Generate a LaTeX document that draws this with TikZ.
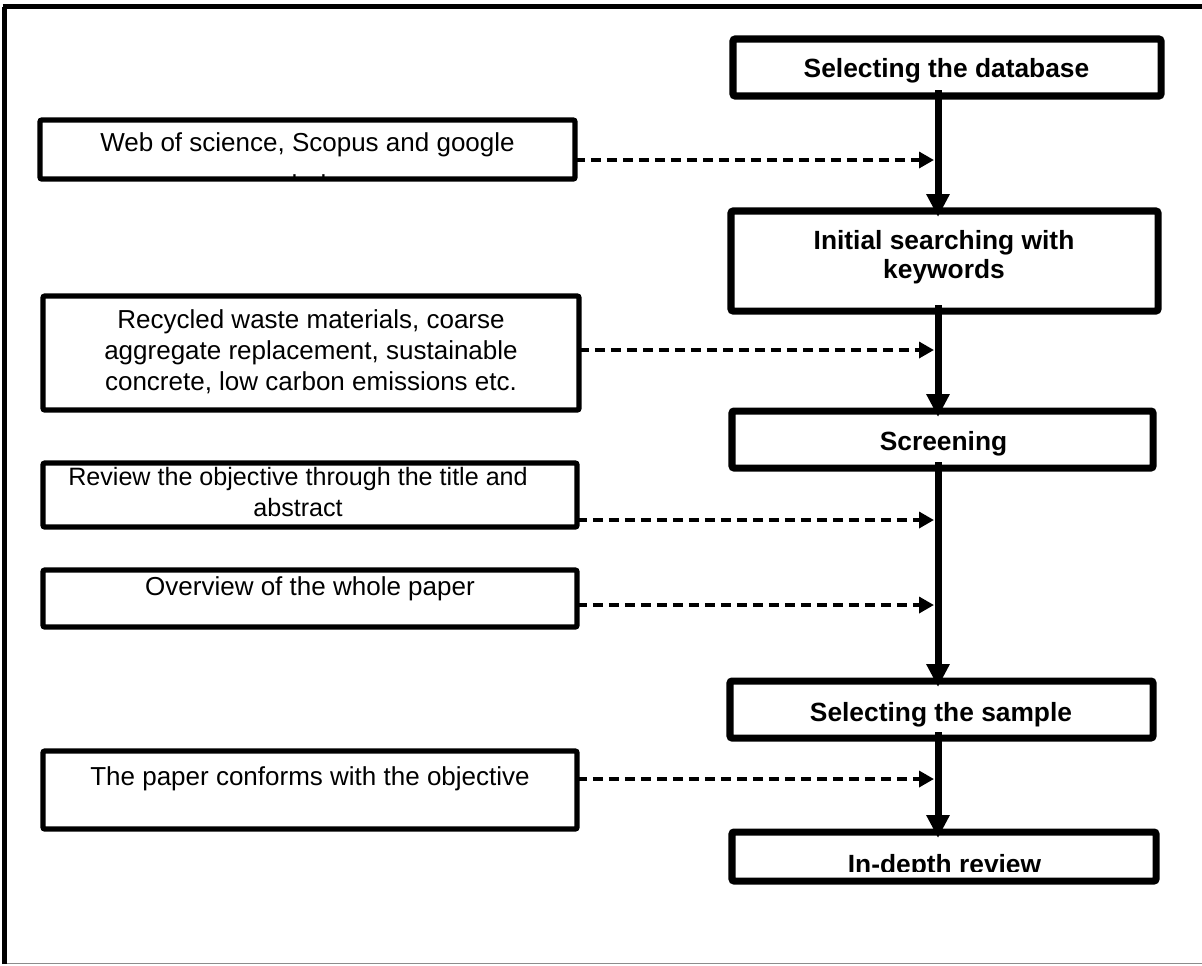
\documentclass[tikz,border=0pt]{standalone}
\usepackage{fontspec}
\setmainfont{Liberation Sans}
\usetikzlibrary{arrows.meta,fit}
\begin{document}
\begin{tikzpicture}[x=0.02cm,y=-0.02cm,
  stepbox/.style={draw, line width=4pt, rounded corners=1.2pt, outer sep=0pt, inner sep=0pt},
  notebox/.style={draw, line width=3.1pt, rounded corners=1.2pt, outer sep=0pt, inner sep=0pt},
  boldtxt/.style={font=\fontsize{15pt}{16.4pt}\selectfont\bfseries, align=center, inner sep=0pt},
  plaintxt/.style={font=\fontsize{14.8pt}{17.6pt}\selectfont, align=center, inner sep=0pt},
  flow/.style={line width=4pt, -{Triangle[length=13pt,width=12.5pt]}, shorten >=-3.4pt, shorten <=-3.4pt},
  feed/.style={line width=2.3pt, dash pattern=on 5.7pt off 3.4pt, -{Triangle[length=8.5pt,width=9pt]}},
]
\useasboundingbox (0,0) rectangle (1202,965);
% outer frame
\draw[line width=0.85pt, black!45] (4,963.5) -- (1202,963.5);
\draw[line width=2.3pt] (4.5,964) -- (4.5,6.5);
\draw[line width=2.85pt] (2.5,6.5) -- (1202,6.5);

% spine
\coordinate (spine) at (938,0);

% right-hand steps
\node[stepbox, fit={(733,39) (1161,96)}] (b1) {};
\node[boldtxt] (t1) at (946.5,71) {Selecting the database};

\node[stepbox, fit={(731,211) (1158,311)}] (b2) {};
\node[boldtxt] (t2) at (944,257) {Initial searching with\\keywords};

\node[stepbox, fit={(732,411) (1153,468)}] (b3) {};
\node[boldtxt] (t3) at (943.5,444) {Screening};

\node[stepbox, fit={(730,681) (1153,738)}] (b4) {};
\node[boldtxt] (t4) at (941,715) {Selecting the sample};

\node[stepbox, fit={(732,832) (1156,881)}, draw=none] (b5) {};
\begin{scope}
  \clip (732,832) rectangle (1156,871.5);
  \node[boldtxt] (t5) at (944.5,867) {In-depth review};
\end{scope}
\draw[line width=4pt, rounded corners=1.2pt] (b5.south west) rectangle (b5.north east);

% left-hand notes
\node[notebox, fit={(40,120) (575,179)}, draw=none] (l1) {};
\begin{scope}
  \clip (40,120) rectangle (575,177);
  \node[plaintxt, font=\fontsize{14.8pt}{24.2pt}\selectfont] (n1) at (307.5,163) {Web of science, Scopus and google\\scholar};
\end{scope}
\draw[line width=3.1pt, rounded corners=1.2pt] (l1.south west) rectangle (l1.north east);

\node[notebox, fit={(43,296) (579,410)}] (l2) {};
\node[plaintxt] (n2) at (311,352) {Recycled waste materials, coarse\\aggregate replacement, sustainable\\concrete, low carbon emissions etc.};

\node[notebox, fit={(43,463) (577,527)}] (l3) {};
\node[plaintxt, font=\fontsize{14.3pt}{17.6pt}\selectfont] (n3) at (298,492) {Review the objective through the title and\\abstract};

\node[notebox, fit={(43,570) (577,627)}] (l4) {};
\node[plaintxt] (n4) at (310,589) {Overview of the whole paper};

\node[notebox, fit={(43,751) (577,829)}] (l5) {};
\node[plaintxt] (n5) at (310,779) {The paper conforms with the objective};

% main flow
\draw[flow] (spine |- b1.south) -- (spine |- b2.north);
\draw[flow] (spine |- b2.south) -- (spine |- b3.north);
\draw[flow] (spine |- b3.south) -- (spine |- b4.north);
\draw[flow] (spine |- b4.south) -- (spine |- b5.north);

% feeds
\coordinate (d1) at (934,160);
\coordinate (d2) at (934,350);
\coordinate (d3) at (934,520);
\coordinate (d4) at (934,605);
\coordinate (d5) at (934,779);
\draw[feed] (l1.east |- d1) -- (d1);
\draw[feed] (l2.east |- d2) -- (d2);
\draw[feed] (l3.east |- d3) -- (d3);
\draw[feed] (l4.east |- d4) -- (d4);
\draw[feed] (l5.east |- d5) -- (d5);
\end{tikzpicture}
\end{document}
